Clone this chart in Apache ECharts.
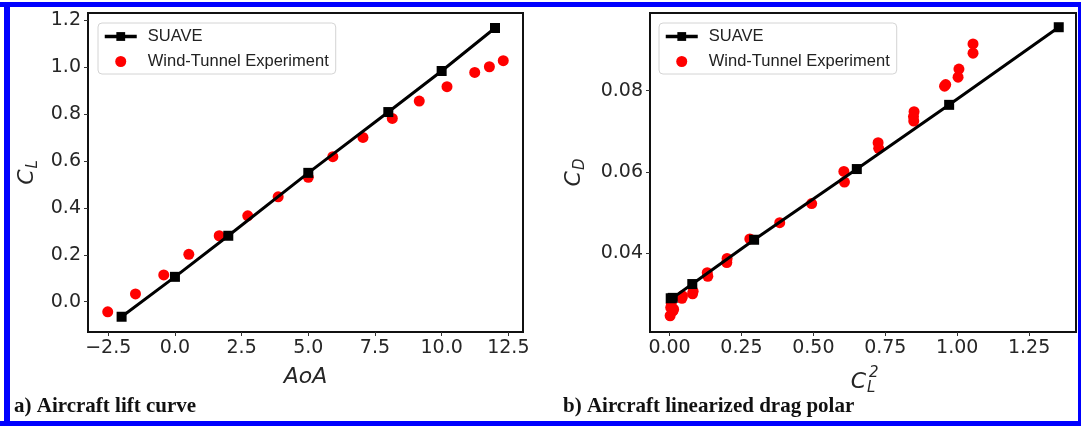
<!DOCTYPE html>
<html>
<head>
<meta charset="utf-8">
<script src="https://cdn.jsdelivr.net/npm/echarts@6/dist/echarts.min.js"></script>
<style>
html,body{margin:0;padding:0;background:#fff;}
#chart{width:1081px;height:426px;}
</style>
</head>
<body>
<div id="chart"></div>
<script>
// ---- Panel a) lift curve ----
const aoaSuave = [-2, 0, 2, 5, 8, 10, 12];
const clSuave = [-0.064, 0.106, 0.281, 0.549, 0.808, 0.983, 1.166];
const aoaWT = [-2.52, -1.48, -0.42, 0.52, 1.66, 2.73, 3.87, 5.00, 5.92, 7.05, 8.15, 9.16, 10.20, 11.24, 11.79, 12.31];
const clWT = [-0.043, 0.033, 0.114, 0.202, 0.281, 0.366, 0.447, 0.530, 0.618, 0.700, 0.781, 0.855, 0.916, 0.977, 1.001, 1.027];
const aoaTicks = [-2.5, 0, 2.5, 5, 7.5, 10, 12.5];
const clTicks = [0, 0.2, 0.4, 0.6, 0.8, 1.0, 1.2];

// ---- Panel b) linearized drag polar ----
const cl2Suave = [0.004, 0.011, 0.079, 0.294, 0.651, 0.972, 1.353];
const cdSuave = [0.0289, 0.0290, 0.0324, 0.0433, 0.0607, 0.0765, 0.0956];
const cl2WT = [0.002, 0.012, 0.004, 0.014, 0.006, 0.043, 0.045, 0.080, 0.082, 0.133, 0.131, 0.199, 0.200, 0.279, 0.383, 0.494, 0.608, 0.606, 0.727, 0.725, 0.849, 0.848, 0.850, 0.956, 0.960, 1.003, 1.006, 1.055, 1.055];
const cdWT = [0.0246, 0.0258, 0.0266, 0.0262, 0.0276, 0.0289, 0.0295, 0.0300, 0.0306, 0.0343, 0.0352, 0.0377, 0.0387, 0.0435, 0.0475, 0.0522, 0.0575, 0.0601, 0.0658, 0.0672, 0.0725, 0.0736, 0.0748, 0.0811, 0.0815, 0.0833, 0.0853, 0.0892, 0.0915];
const cl2Ticks = [0, 0.25, 0.5, 0.75, 1.0, 1.25];
const cdTicks = [0.04, 0.06, 0.08];

const seriesNames = ['SUAVE', 'Wind-Tunnel Experiment'];
const captions = ['a) Aircraft lift curve', 'b) Aircraft linearized drag polar'];

const zip = (a, b) => a.map((v, i) => [v, b[i]]);
const fmt = (d) => (v) => v.toFixed(d).replace('-', '\u2212');

const tickFont = {fontFamily: 'DejaVu Sans', fontSize: 19, color: '#262626'};
const nameRich = {
  i: {fontFamily: 'DejaVu Sans', fontStyle: 'italic', fontSize: 22, color: '#262626'},
  s: {fontFamily: 'DejaVu Sans', fontStyle: 'italic', fontSize: 15, color: '#262626', padding: [12, 0, 0, 1]}
};

function axis(gridIndex, min, max, ticks, dec, name, nameGap) {
  return {
    type: 'value', gridIndex, min, max,
    name, nameLocation: 'middle', nameGap,
    nameTextStyle: {rich: nameRich},
    axisLine: {show: true, onZero: false, lineStyle: {color: '#111', width: 2}},
    axisTick: {show: true, inside: false, length: 4, customValues: ticks, lineStyle: {color: '#333', width: 1}},
    axisLabel: Object.assign({customValues: ticks, formatter: fmt(dec), margin: 7}, tickFont),
    splitLine: {show: false}
  };
}

const legendBase = {
  orient: 'vertical', top: 23, data: seriesNames,
  itemWidth: 32, itemHeight: 11, itemGap: 8,
  padding: [5, 7, 4, 5],
  borderColor: '#d4d4d4', borderWidth: 1, borderRadius: 4,
  backgroundColor: 'rgba(255,255,255,0.85)',
  lineStyle: {width: 3.5},
  textStyle: {fontFamily: 'Liberation Sans', fontSize: 16.5, color: '#222', padding: [0, 0, 0, 6]}
};

const lineSeries = (xi, x, y) => ({
  name: seriesNames[0], type: 'line', xAxisIndex: xi, yAxisIndex: xi,
  data: zip(x, y), symbol: 'rect', symbolSize: 10, z: 5,
  lineStyle: {color: '#000', width: 3}, itemStyle: {color: '#000'}
});
const scatterSeries = (xi, x, y) => ({
  name: seriesNames[1], type: 'scatter', xAxisIndex: xi, yAxisIndex: xi,
  data: zip(x, y), symbol: 'circle', symbolSize: 11, z: 3,
  itemStyle: {color: '#ff0000', opacity: 1}
});

const chart = echarts.init(document.getElementById('chart'), null, {renderer: 'canvas'});
chart.setOption({
  animation: false,
  backgroundColor: '#fff',
  grid: [
    {left: 88, top: 13, width: 435, height: 319, show: true, borderColor: '#111', borderWidth: 2, backgroundColor: 'transparent'},
    {left: 650, top: 13, width: 426, height: 319, show: true, borderColor: '#111', borderWidth: 2, backgroundColor: 'transparent'}
  ],
  xAxis: [
    axis(0, -3.26, 13.05, aoaTicks, 1, '{i|AoA}', 34),
    axis(1, -0.068, 1.413, cl2Ticks, 2, '{i|C}{s|L}', 37)
  ],
  yAxis: [
    axis(0, -0.129, 1.230, clTicks, 1, '{i|C}{s|L}', 47),
    axis(1, 0.0206, 0.0991, cdTicks, 2, '{i|C}{s|D}', 62)
  ],
  legend: [
    Object.assign({left: 98}, legendBase),
    Object.assign({left: 659}, legendBase)
  ],
  series: [
    scatterSeries(0, aoaWT, clWT),
    lineSeries(0, aoaSuave, clSuave),
    scatterSeries(1, cl2WT, cdWT),
    lineSeries(1, cl2Suave, cdSuave)
  ],
  graphic: [
    {type: 'text', left: 14, top: 396, style: {text: captions[0], font: 'bold 21px "Liberation Serif"', fill: '#111'}},
    {type: 'text', left: 563, top: 396, style: {text: captions[1], font: 'bold 21px "Liberation Serif"', fill: '#111'}},
    {type: 'text', left: 869, top: 366, style: {text: '2', font: 'italic 15px "DejaVu Sans"', fill: '#262626'}},
    {type: 'rect', shape: {x: 0, y: 2, width: 1081, height: 5}, style: {fill: '#0000ff'}, z: 100},
    {type: 'rect', shape: {x: 4, y: 2, width: 6, height: 424}, style: {fill: '#0000ff'}, z: 100},
    {type: 'rect', shape: {x: 0, y: 421, width: 1081, height: 5}, style: {fill: '#0000ff'}, z: 100},
    {type: 'rect', shape: {x: 1078, y: 2, width: 3, height: 424}, style: {fill: '#0000ff'}, z: 100}
  ]
});
</script>
</body>
</html>
